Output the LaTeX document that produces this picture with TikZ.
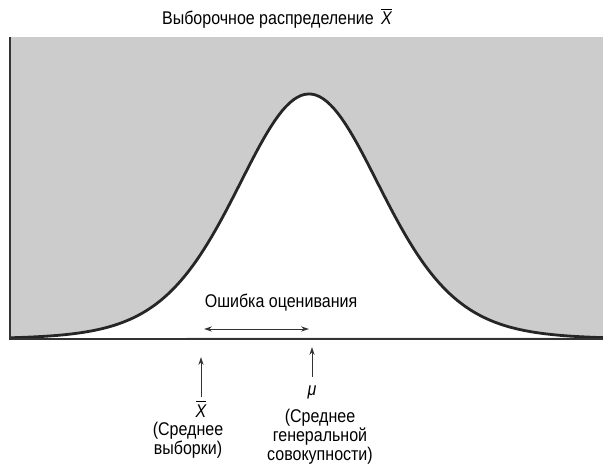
\documentclass[tikz,border=0pt]{standalone}
\usepackage{fontspec}
\setmainfont{Liberation Sans}[FakeStretch=0.87]
\usetikzlibrary{arrows.meta}
\definecolor{bggray}{HTML}{CCCCCC}

\begin{document}
\begin{tikzpicture}[
    x=0.5pt, y=-0.5pt,
    font=\fontsize{9.2}{9.6}\selectfont,
    >=Stealth,
    lbl/.style={inner sep=0.5pt, align=center},
    ptr/.style={line width=0.5pt, black!80, -{Stealth[length=4pt, width=2.6pt]}},
    dptr/.style={line width=0.5pt, black!80, {Stealth[length=4pt, width=2.6pt]}-{Stealth[length=4pt, width=2.6pt]}},
    curve/.style={line width=1.4pt, black!85}
]
\useasboundingbox (0,0) rectangle (603,471);
% area outside the curve
\fill[bggray] (10,37) rectangle (603,339);
\fill[white] plot[domain=10:603, samples=160] (\x, {339-245*exp(-5.5*ln(1+((\x-309)/100)^2/5.507))}) -- cycle;
\draw[curve] plot[domain=10:603, samples=160] (\x, {339-245*exp(-5.5*ln(1+((\x-309)/100)^2/5.507))});
\draw[line width=0.7pt, black!80] (10,37) -- (10,339) -- (603,339);

\node[lbl] (title) at (277,18) {Выборочное распределение\hspace{0.4em}$\overline{\mbox{\itshape X}}$};
\node[lbl] (err) at (281,303) {Ошибка оценивания};
\coordinate (errL) at (204,329);
\coordinate (errR) at (309,329);
\draw[dptr] (errL) -- (errR);

% means under the axis
\node[lbl] (xbar) at (201,409) {$\overline{\mbox{\itshape X}}$};
\coordinate (xbarTip) at (201,357);
\draw[ptr] ([yshift=1pt]xbar.north) -- (xbarTip);
\node[lbl, anchor=base] (mu) at (312,395) {\itshape μ};
\coordinate (muTip) at (312,347);
\draw[ptr] ([yshift=3.5pt]mu.north) -- (muTip);

\node[lbl] (sample) at (188,440) {(Среднее\\выборки)};
\node[lbl] (popul) at (320,437) {(Среднее\\генеральной\\совокупности)};
\end{tikzpicture}
\end{document}
